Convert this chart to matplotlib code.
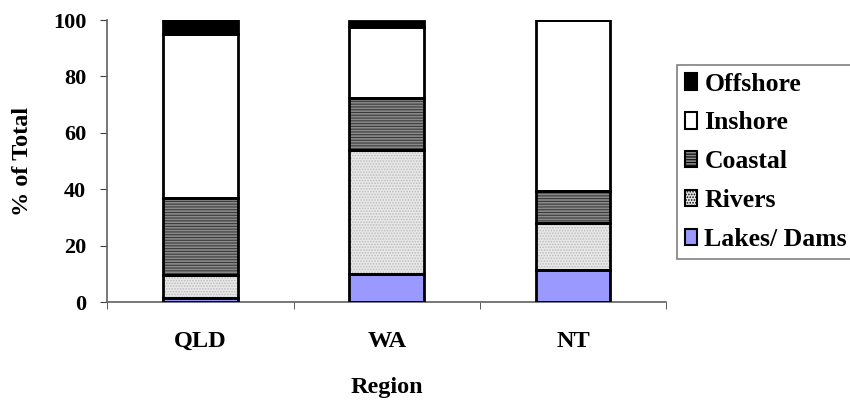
import numpy as np
import matplotlib.pyplot as plt
from matplotlib.patches import Patch

plt.rcParams['font.family'] = 'Liberation Serif'
plt.rcParams['font.weight'] = 'bold'
plt.rcParams['hatch.linewidth'] = 0.8

regions = ["QLD", "WA", "NT"]
series = ["Lakes/ Dams", "Rivers", "Coastal", "Inshore", "Offshore"]

# % of total, stacked bottom to top
lakes = [1.5, 10.0, 11.3]
rivers = [8.0, 44.0, 16.7]
coastal = [27.5, 18.5, 11.3]
inshore = [58.0, 25.0, 60.7]
offshore = [5.0, 2.0, 0.0]

values = [lakes, rivers, coastal, inshore, offshore]
faces = ["#9999ff", "#e8e8e8", "#8a8a8a", "white", "black"]
hatches = [None, "......", "------", None, None]
hatch_cols = ["black", "#bdbdbd", "#3a3a3a", "black", "black"]

fig = plt.figure(figsize=(8.5, 4), dpi=100)
ax = fig.add_axes([0.126, 0.245, 0.658, 0.705])

x = np.arange(len(regions))
bottom = np.zeros(len(regions))
for vals, fc, h, hc in zip(values, faces, hatches, hatch_cols):
    vals = np.array(vals)
    # fill with hatch, then outline on top
    ax.bar(x, vals, 0.4, bottom=bottom, color=fc, hatch=h, edgecolor=hc,
           linewidth=0, zorder=2)
    ax.bar(x, vals, 0.4, bottom=bottom, fill=False, edgecolor="black",
           linewidth=2, zorder=3)
    bottom += vals

ax.set_xlim(-0.5, 2.5)
ax.set_ylim(0, 100)
ax.set_yticks([0, 20, 40, 60, 80, 100])
ax.set_xticks(x)
ax.set_xticklabels(regions)
ax.set_xticks([-0.5, 0.5, 1.5, 2.5], minor=True)
ax.tick_params(axis='x', which='major', length=0, pad=21, labelsize=17.5)
ax.tick_params(axis='x', which='minor', length=5, direction='out', color='#404040')
ax.tick_params(axis='y', length=5, direction='out', color='#404040', labelsize=16, pad=10)
for lab in ax.get_xticklabels() + ax.get_yticklabels():
    lab.set_fontweight('bold')

for s in ['top', 'right']:
    ax.spines[s].set_visible(False)
for s in ['left', 'bottom']:
    ax.spines[s].set_color('#606060')
    ax.spines[s].set_linewidth(1.2)

ax.set_xlabel("Region", fontsize=17.5, fontweight='bold', labelpad=18)
ax.set_ylabel("% of Total", fontsize=17.5, fontweight='bold', labelpad=14)

handles = []
for name, fc, h, hc in zip(series, faces, hatches, hatch_cols):
    handles.append(Patch(facecolor=fc, hatch=h, edgecolor="black", linewidth=1.5, label=name))
handles = handles[::-1]
leg = fig.legend(handles=handles, loc='upper left', bbox_to_anchor=(0.797, 0.838),
                 prop={'family': 'Liberation Serif', 'weight': 'bold', 'size': 18.5},
                 frameon=True, fancybox=False, handlelength=0.45, handleheight=0.6,
                 handletextpad=0.3, labelspacing=0.62, borderpad=0.3, borderaxespad=0)
leg.get_frame().set_edgecolor('#606060')
leg.get_frame().set_linewidth(1.2)

fig.savefig("out.png", dpi=100)
